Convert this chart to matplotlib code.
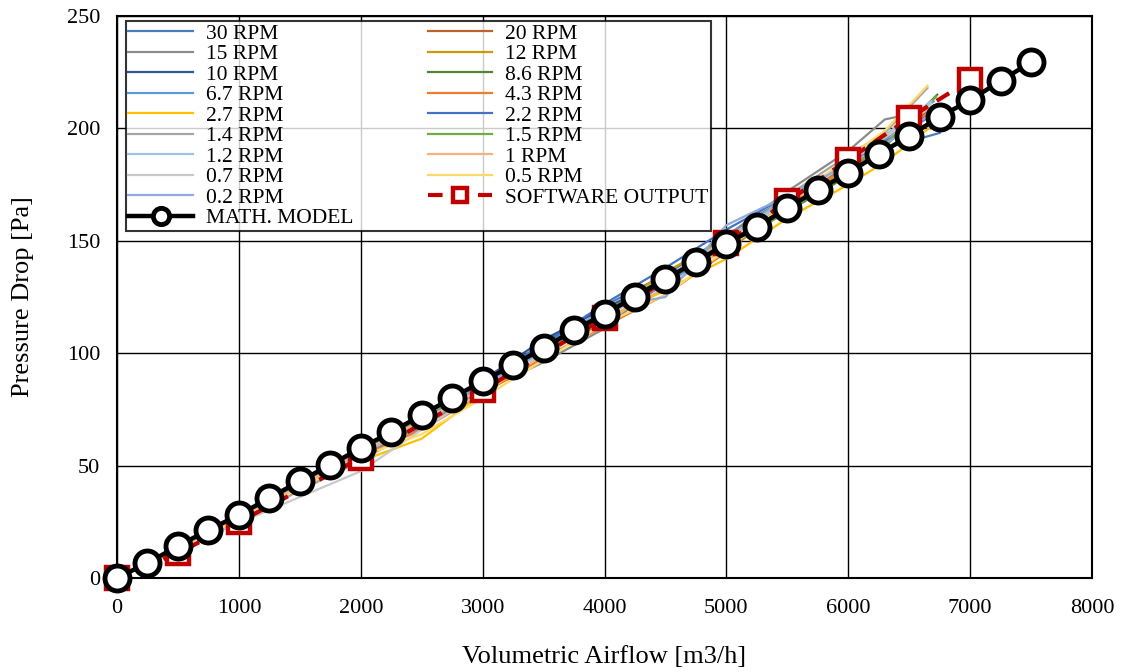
import matplotlib
matplotlib.use("Agg")
import matplotlib.pyplot as plt

plt.rcParams["font.family"] = ["Liberation Serif", "DejaVu Serif"]

# math model (every 250 m3/h)
model_x = [0, 250, 500, 750, 1000, 1250, 1500, 1750, 2000, 2250, 2500, 2750,
           3000, 3250, 3500, 3750, 4000, 4250, 4500, 4750, 5000, 5250, 5500,
           5750, 6000, 6250, 6500, 6750, 7000, 7250, 7500]
model_y = [0, 6.7, 14.2, 21.4, 28.0, 35.6, 43.1, 50.3, 57.8, 64.9, 72.5, 80.1,
           87.6, 94.7, 102.3, 110.3, 117.4, 125.0, 133.0, 140.6, 148.6, 156.1,
           164.6, 172.6, 180.2, 188.6, 196.6, 205.1, 212.6, 221.1, 229.5]

# software output
soft_x = [0, 500, 1000, 2000, 3000, 4000, 5000, 5500, 6000, 6500, 7000]
soft_y = [0, 11.1, 24.9, 53.4, 83.6, 115.7, 149.0, 167.5, 186.0, 204.6, 221.5]

# measured curves per rotor speed
rpm_x = [0, 500, 1000, 1500, 2000, 2500, 3000, 3500, 4000, 4500, 5000, 5500, 6000, 6300]
rpm_labels = ["30 RPM", "20 RPM", "15 RPM", "12 RPM", "10 RPM", "8.6 RPM",
              "6.7 RPM", "4.3 RPM", "2.7 RPM", "2.2 RPM", "1.4 RPM", "1.5 RPM",
              "1.2 RPM", "1 RPM", "0.7 RPM", "0.5 RPM", "0.2 RPM"]
rpm_colors = ["#4A7EBB", "#C0622B", "#8C8C8C", "#C99A06", "#2F5597", "#548235",
              "#5B9BD5", "#ED7D31", "#FFC000", "#4472C4", "#A5A5A5", "#70AD47",
              "#9DC3E6", "#F4B183", "#C9C9C9", "#FFD966", "#8FAADC"]
rpm_end_x = [6750, 6700, 6750, 6680, 6700, 6730, 6700, 6680, 6660, 6700,
             6650, 6720, 6680, 6700, 6680, 6650, 6700]
rpm_end_y = [198, 208, 209, 212, 210, 215, 212, 208, 200, 206, 218, 214, 212,
             210, 211, 219, 207]
rpm_y = [
    [0, 12.8, 25.6, 39.8, 53.5, 68.2, 85.3, 105, 121.2, 134.8, 152.4, 169.4, 183, 191],
    [0, 13, 26, 41, 55, 68, 84, 100, 114, 131, 150, 168, 184, 194],
    [0, 12.5, 25, 39, 53, 67, 83, 96, 111, 133, 152, 172, 190, 204],
    [0, 13, 26.5, 41, 56, 70, 86, 101, 118, 136, 151, 166, 182, 192],
    [0, 13, 27, 41.5, 56, 71, 88, 106, 120, 133, 149, 167, 183, 193],
    [0, 13, 26.5, 41, 56, 71, 86, 101, 118, 134, 147, 163, 179, 192],
    [0, 13.5, 27, 42, 56, 70, 86, 104, 119, 130, 150, 168, 186, 195],
    [0, 13, 26, 40, 54, 66, 82, 98, 112, 126, 145, 166, 183, 193],
    [0, 13, 26, 40, 52, 62, 82, 100, 115, 128, 142, 160, 175, 185],
    [0, 13.5, 27, 42, 57, 72, 88, 104, 122, 138, 155, 170, 184, 194],
    [0, 12.5, 25.5, 39, 52, 68, 85, 102, 116, 132, 150, 170, 188, 198],
    [0, 13, 26.5, 41, 56, 71, 87, 103, 117, 133, 147, 163, 181, 193],
    [0, 13, 26, 40.5, 55, 69, 85, 100, 116, 133, 151, 168, 186, 197],
    [0, 13, 26.5, 41, 56, 70, 84, 99, 115, 129, 147, 166, 185, 196],
    [0, 12.5, 24.5, 36, 47.5, 66, 83, 100, 116, 133, 150, 167, 185, 196],
    [0, 13, 26, 40, 54, 64, 80, 97, 113, 126, 146, 167, 187, 199],
    [0, 13.5, 27.5, 43, 58, 72, 86, 101, 120, 125, 157, 170, 184, 193],
]

fig = plt.figure(figsize=(11.22, 6.72), dpi=100)
ax = fig.add_axes([0.1043, 0.1399, 0.8690, 0.8363])

handles = {}
for lab, col, ys, ex, ey in zip(rpm_labels, rpm_colors, rpm_y, rpm_end_x, rpm_end_y):
    h, = ax.plot(rpm_x + [ex], ys + [ey], color=col, lw=1.6, label=lab, zorder=2)
    handles[lab] = h

h_soft, = ax.plot(soft_x, soft_y, color="#C00000", lw=3, dashes=(3.5, 2.5),
                  marker="s", ms=16.5, mfc="white", mec="#C00000", mew=3.2,
                  label="SOFTWARE OUTPUT", zorder=3, clip_on=False)
h_model, = ax.plot(model_x, model_y, color="black", lw=3.2, marker="o", ms=18,
                   mfc="white", mec="black", mew=3.5, label="MATH. MODEL",
                   zorder=4, clip_on=False)

ax.set_xlim(0, 8000)
ax.set_ylim(0, 250)
ax.set_xticks(range(0, 8001, 1000))
ax.set_yticks(range(0, 251, 50))
ax.grid(True, color="black", lw=1.0)
ax.set_axisbelow(True)
ax.tick_params(length=0, labelsize=16)
ax.tick_params(axis="x", pad=15)
ax.tick_params(axis="y", pad=12)
for s in ax.spines.values():
    s.set_linewidth(1.5)
    s.set_color("black")

ax.set_xlabel("Volumetric Airflow [m3/h]", fontsize=19, labelpad=20)
ax.set_ylabel("Pressure Drop [Pa]", fontsize=19, labelpad=24)

left_col = ["30 RPM", "15 RPM", "10 RPM", "6.7 RPM", "2.7 RPM", "1.4 RPM",
            "1.2 RPM", "0.7 RPM", "0.2 RPM"]
right_col = ["20 RPM", "12 RPM", "8.6 RPM", "4.3 RPM", "2.2 RPM", "1.5 RPM",
             "1 RPM", "0.5 RPM"]
order = [handles[l] for l in left_col] + [h_model] + \
        [handles[l] for l in right_col] + [h_soft]
leg = ax.legend(handles=order, ncol=2, loc="upper left",
                bbox_to_anchor=(0.009, 0.991), fontsize=15.5, numpoints=1,
                handlelength=3.0, handletextpad=0.6, columnspacing=3.45,
                labelspacing=0.02, borderpad=0.12, borderaxespad=0,
                frameon=True, fancybox=False, markerscale=0.65)
leg.get_frame().set_edgecolor("black")
leg.get_frame().set_linewidth(1.5)
leg.set_zorder(5)

fig.savefig("out.png", dpi=100)
